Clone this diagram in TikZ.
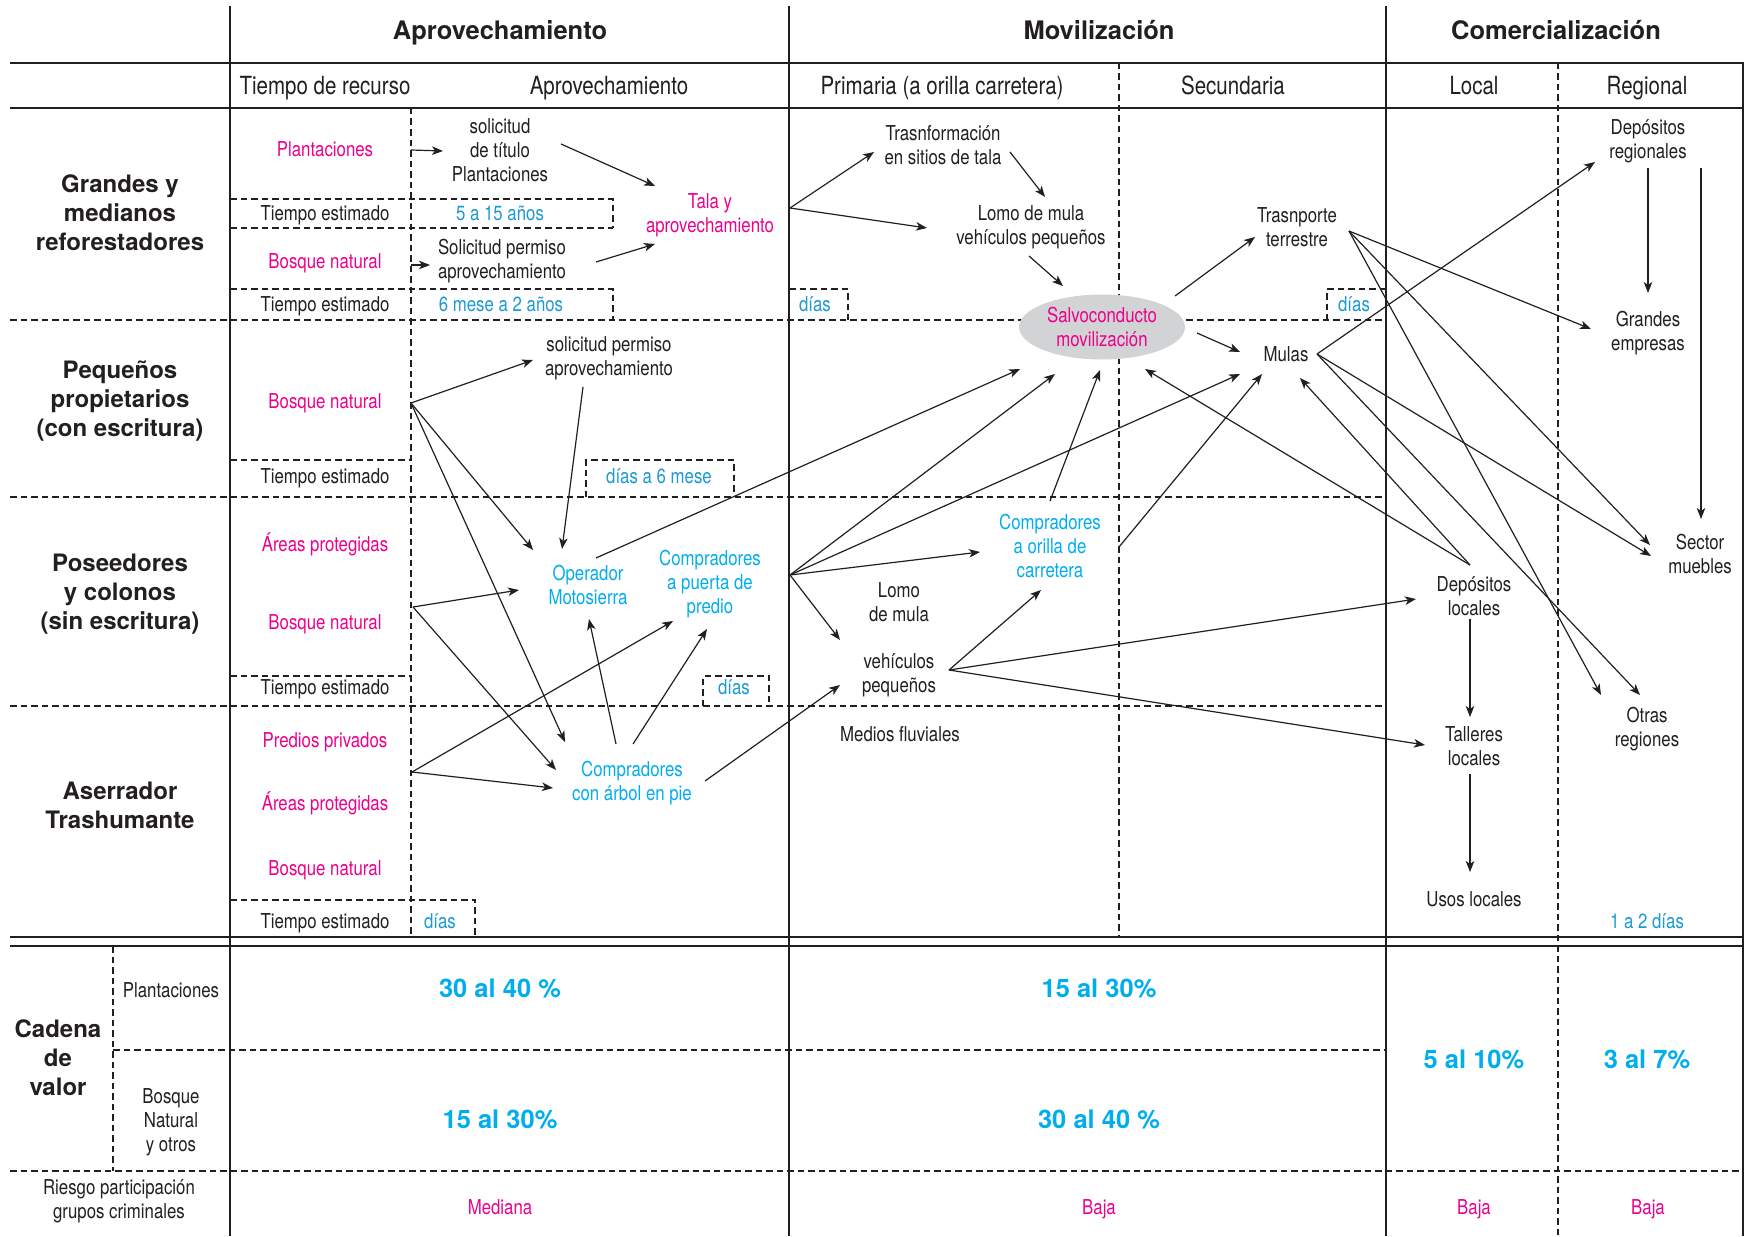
\documentclass[tikz,border=0pt]{standalone}
\usepackage{fontspec}
\setmainfont{TeX Gyre Heros}[FakeStretch=0.82]
\newfontfamily\hvwide{TeX Gyre Heros}
\usetikzlibrary{arrows.meta,shapes.geometric}
\definecolor{ink}{HTML}{231F20}
\definecolor{mag}{HTML}{EC008C}
\definecolor{cya}{HTML}{00AEEF}
\definecolor{cyd}{HTML}{1C9AD6}
\definecolor{gry}{HTML}{D1D3D4}
\tikzset{
 heavy/.style={line width=2.2pt, draw=ink},
 thinb/.style={line width=1.3pt, draw=ink},
 dsh/.style={line width=1.1pt, draw=ink, dash pattern=on 6.5pt off 4pt},
 arr/.style={line width=1.2pt, draw=ink, -{Stealth[length=11pt,width=8.5pt,inset=3pt]}},
 txt/.style={font=\fontsize{20.5}{24.2}\selectfont, text=ink, align=center, inner sep=0pt},
 mtxt/.style={txt, text=mag},
 ctxt/.style={txt, text=cya},
 dtxt/.style={txt, text=cyd},
 bl/.style={anchor=base},
 subh/.style={font=\fontsize{25}{28}\selectfont, text=ink, inner sep=0pt, anchor=base},
 head/.style={font=\hvwide\bfseries\fontsize{25.5}{28}\selectfont, text=ink, inner sep=0pt, anchor=base},
 rowh/.style={font=\hvwide\bfseries\fontsize{24}{29}\selectfont, text=ink, align=center, inner sep=0pt},
 pct/.style={font=\hvwide\bfseries\fontsize{25.5}{28}\selectfont, text=cya, inner sep=0pt, anchor=base},
 salvost/.style={ellipse, fill=gry, minimum width=166pt, minimum height=65pt, inner sep=0pt,
   font=\fontsize{20.5}{24.5}\selectfont, text=mag, align=center},
}
\begin{document}
\begin{tikzpicture}[x=1pt,y=-1pt]
\useasboundingbox (0,0) rectangle (1744,1236);
\fill[white] (0,0) rectangle (1744,1236);

% ---------- grid ----------
\draw[dsh] (1119,63) -- (1119,937);
\draw[dsh] (1558,63) -- (1558,1236);
\draw[dsh] (411,108) -- (411,937);
\draw[dsh] (113,946) -- (113,1171);
\draw[dsh] (10,320) -- (1386,320);
\draw[dsh] (10,497) -- (1386,497);
\draw[dsh] (10,706) -- (1386,706);
\draw[dsh] (113,1050) -- (1386,1050);
\draw[dsh] (10,1171) -- (1744,1171);
% tiempo sub-rows and boxes
\draw[dsh] (230,199) -- (613,199) -- (613,228);
\draw[dsh] (230,228) -- (613,228);
\draw[dsh] (230,289) -- (613,289) -- (613,320);
\draw[dsh] (789,289) -- (848,289) -- (848,320);
\draw[dsh] (1386,289) -- (1327,289) -- (1327,320);
\draw[dsh] (230,460) -- (411,460);
\draw[dsh] (586,497) -- (586,460) -- (734,460) -- (734,497);
\draw[dsh] (230,676) -- (411,676);
\draw[dsh] (703,706) -- (703,676) -- (769,676) -- (769,706);
\draw[dsh] (230,900) -- (475,900) -- (475,937);

\draw[heavy] (230,6) -- (230,1236);
\draw[heavy] (789,6) -- (789,1236);
\draw[heavy] (1386,6) -- (1386,1236);
\draw[heavy] (10,63) -- (1744,63);
\draw[heavy] (10,108) -- (1744,108);
\draw[heavy] (10,937) -- (1744,937);
\draw[heavy] (10,946) -- (1744,946);
\draw[thinb] (1743,63) -- (1743,1236);

% ---------- headers ----------
\node[head] (hA) at (500,40) {Aprovechamiento};
\node[head] (hM) at (1099,40) {Movilización};
\node[head] (hC) at (1556,40) {Comercialización};
\node[subh] (sT) at (325,94.5) {Tiempo de recurso};
\node[subh] (sA) at (609,94.5) {Aprovechamiento};
\node[subh] (sP) at (942,94.5) {Primaria (a orilla carretera)};
\node[subh] (sS) at (1233,94.5) {Secundaria};
\node[subh] (sL) at (1474,94.5) {Local};
\node[subh] (sR) at (1647,94.5) {Regional};

% ---------- row headers ----------
\node[rowh] (r1) at (120,213) {Grandes y\\medianos\\reforestadores};
\node[rowh] (r2) at (120,401) {Pequeños\\propietarios\\(con escritura)};
\node[rowh] (r3) at (120,594) {Poseedores\\y colonos\\(sin escritura)};
\node[rowh] (r4) at (120,805) {Aserrador\\Trashumante};
\node[rowh] (r5) at (58,1058) {Cadena\\de\\valor};

% ---------- row 1 ----------
\node[mtxt,bl] (plant) at (325,156.5) {Plantaciones};
\node[txt] (solT) at (500,150) {solicitud\\de título\\Plantaciones};
\node[txt,bl] (te1) at (325,220.5) {Tiempo estimado};
\node[dtxt,bl] (t515) at (500,220.5) {5 a 15 años};
\node[mtxt,bl] (bn1) at (325,268.5) {Bosque natural};
\node[txt] (solP) at (502,261) {Solicitud permiso\\aprovechamiento};
\node[txt,bl] (te2) at (325,311.5) {Tiempo estimado};
\node[dtxt,bl] (t6m) at (501,311.5) {6 mese a 2 años};
\node[mtxt] (tala) at (710,215) {Tala y\\aprovechamiento};
\node[dtxt,bl] (dias1) at (815,311.5) {días};
\node[txt] (trans) at (943,145) {Trasnformación\\en sitios de tala};
\node[txt] (lomo1) at (1031,227) {Lomo de mula\\vehículos pequeños};
\node[salvost] (salvo) at (1102,327) {Salvoconducto\\movilización};
\node[txt] (trasp) at (1297,227) {Trasnporte\\terrestre};
\node[txt,bl] (mulas) at (1286,361) {Mulas};
\node[dtxt,bl] (dias2) at (1354,311.5) {días};
\node[txt] (depR) at (1648,141) {Depósitos\\regionales};
\node[txt] (grE) at (1648,333) {Grandes\\empresas};

% ---------- row 2 ----------
\node[mtxt,bl] (bn2) at (325,408.5) {Bosque natural};
\node[txt] (solP2) at (609,358) {solicitud permiso\\aprovechamiento};
\node[txt,bl] (te3) at (325,483.5) {Tiempo estimado};
\node[dtxt,bl] (d6) at (659,483.5) {días a 6 mese};

% ---------- row 3 ----------
\node[mtxt,bl] (ap3) at (325,551.5) {Áreas protegidas};
\node[mtxt,bl] (bn3) at (325,629.5) {Bosque natural};
\node[txt,bl] (te4) at (325,694.5) {Tiempo estimado};
\node[ctxt] (oper) at (588,585) {Operador\\Motosierra};
\node[ctxt] (cpuerta) at (710,584) {Compradores\\a puerta de\\predio};
\node[dtxt,bl] (dias3) at (734,694.5) {días};
\node[txt] (lomo2) at (899,602) {Lomo\\de mula};
\node[txt] (veh) at (899,675) {vehículos\\pequeños};
\node[ctxt] (corilla) at (1050,546) {Compradores\\a orilla de\\carretera};
\node[txt] (depL) at (1474,596) {Depósitos\\locales};
\node[txt] (sect) at (1700,554) {Sector\\muebles};

% ---------- row 4 ----------
\node[mtxt,bl] (pp4) at (325,747) {Predios privados};
\node[mtxt,bl] (ap4) at (325,810.5) {Áreas protegidas};
\node[mtxt,bl] (bn4) at (325,875.5) {Bosque natural};
\node[txt,bl] (te5) at (325,928.5) {Tiempo estimado};
\node[dtxt,bl] (dias4) at (440,928.5) {días};
\node[ctxt] (carbol) at (632,783) {Compradores\\con árbol en pie};
\node[txt,bl] (medf) at (900,741) {Medios fluviales};
\node[txt] (tall) at (1474,746) {Talleres\\locales};
\node[txt] (otras) at (1647,729) {Otras\\regiones};
\node[txt,bl] (usos) at (1474,906.5) {Usos locales};
\node[dtxt,bl] (d12) at (1647,928.5) {1 a 2 días};

% ---------- value chain ----------
\node[txt,bl] (cvP) at (171,997.5) {Plantaciones};
\node[txt] (cvB) at (171,1122) {Bosque\\Natural\\y otros};
\node[txt] (ries) at (119,1201) {Riesgo participación\\grupos criminales};
\node[pct] (p1) at (500,997.5) {30 al 40 \%};
\node[pct] (p2) at (500,1128) {15 al 30\%};
\node[pct] (p3) at (1099,997.5) {15 al 30\%};
\node[pct] (p4) at (1099,1128) {30 al 40 \%};
\node[pct] (p5) at (1474,1068) {5 al 10\%};
\node[pct] (p6) at (1647,1068) {3 al 7\%};
\node[mtxt,bl] (k1) at (500,1214.5) {Mediana};
\node[mtxt,bl] (k2) at (1099,1214.5) {Baja};
\node[mtxt,bl] (k3) at (1474,1214.5) {Baja};
\node[mtxt,bl] (k4) at (1648,1214.5) {Baja};

% ---------- connector end points ----------
\coordinate (plantO) at (411,150);  \coordinate (solTI) at (443,151);
\coordinate (bn1O) at (411,265);    \coordinate (solPI) at (430,265);
\coordinate (solTO) at (561,144);   \coordinate (talaI1) at (655,186);
\coordinate (solPO) at (596,262);   \coordinate (talaI2) at (655,244);
\coordinate (talaO) at (790,208);
\coordinate (transI) at (874,152);  \coordinate (lomo1I) at (927,228);
\coordinate (transO) at (1010,152); \coordinate (lomo1I2) at (1045,197);
\coordinate (lomo1O) at (1029,256); \coordinate (salvoI1) at (1063,286);
\coordinate (salvoO1) at (1175,296); \coordinate (traspI) at (1255,237);
\coordinate (salvoO2) at (1197,333); \coordinate (mulasI1) at (1240,352);
\coordinate (traspO) at (1349,231);
\coordinate (grEI) at (1591,329);
\coordinate (sectI1) at (1650,545); \coordinate (sectI2) at (1651,556);
\coordinate (otrasI1) at (1601,695); \coordinate (otrasI2) at (1640,695);
\coordinate (mulasO) at (1317,354);
\coordinate (depRI) at (1595,162);
\coordinate (depRO1) at (1648,168); \coordinate (grEI2) at (1648,293);
\coordinate (depRO2) at (1701,168); \coordinate (sectI3) at (1701,519);
\coordinate (depLO) at (1470,565);
\coordinate (salvoI2) at (1145,369); \coordinate (mulasI2) at (1300,378);
\coordinate (depLO2) at (1470,619); \coordinate (tallI) at (1470,717);
\coordinate (tallO) at (1470,774);  \coordinate (usosI) at (1470,872);
\coordinate (vehO) at (949,670);
\coordinate (corI1) at (1041,590);
\coordinate (depLI) at (1416,599);  \coordinate (tallI2) at (1425,745);
\coordinate (primO) at (790,575);
\coordinate (salvoI3) at (1055,374); \coordinate (mulasI3) at (1240,374);
\coordinate (corI2) at (980,552);   \coordinate (vehI1) at (840,640);
\coordinate (corO1) at (1050,501);  \coordinate (salvoI4) at (1100,370);
\coordinate (corO2) at (1119,547);  \coordinate (mulasI4) at (1262,374);
\coordinate (operO) at (596,558);   \coordinate (salvoI5) at (1020,369);
\coordinate (bn2O) at (411,403);
\coordinate (solP2I) at (533,360);  \coordinate (operI1) at (533,550);
\coordinate (carbI1) at (565,742);
\coordinate (solP2O) at (583,387);  \coordinate (operI2) at (562,549);
\coordinate (bn3O) at (413,607);
\coordinate (operI3) at (519,590);  \coordinate (carbI2) at (556,770);
\coordinate (aserO) at (412,772);
\coordinate (cpuI1) at (673,621);   \coordinate (carbI3) at (553,788);
\coordinate (carbO1) at (616,744);  \coordinate (operI4) at (589,619);
\coordinate (carbO2) at (633,744);  \coordinate (cpuI2) at (707,629);
\coordinate (carbO3) at (705,781);  \coordinate (vehI2) at (840,685);

% ---------- connectors ----------
\draw[arr] (plantO) -- (solTI);
\draw[arr] (bn1O) -- (solPI);
\draw[arr] (solTO) -- (talaI1);
\draw[arr] (solPO) -- (talaI2);
\draw[arr] (talaO) -- (transI);
\draw[arr] (talaO) -- (lomo1I);
\draw[arr] (transO) -- (lomo1I2);
\draw[arr] (lomo1O) -- (salvoI1);
\draw[arr] (salvoO1) -- (traspI);
\draw[arr] (salvoO2) -- (mulasI1);
\draw[arr] (traspO) -- (grEI);
\draw[arr] (traspO) -- (sectI1);
\draw[arr] (traspO) -- (otrasI1);
\draw[arr] (mulasO) -- (depRI);
\draw[arr] (mulasO) -- (otrasI2);
\draw[arr] (mulasO) -- (sectI2);
\draw[arr] (depRO1) -- (grEI2);
\draw[arr] (depRO2) -- (sectI3);
\draw[arr] (depLO) -- (salvoI2);
\draw[arr] (depLO) -- (mulasI2);
\draw[arr] (depLO2) -- (tallI);
\draw[arr] (tallO) -- (usosI);
\draw[arr] (vehO) -- (corI1);
\draw[arr] (vehO) -- (depLI);
\draw[arr] (vehO) -- (tallI2);
\draw[arr] (primO) -- (salvoI3);
\draw[arr] (primO) -- (mulasI3);
\draw[arr] (primO) -- (corI2);
\draw[arr] (primO) -- (vehI1);
\draw[arr] (corO1) -- (salvoI4);
\draw[arr] (corO2) -- (mulasI4);
\draw[arr] (operO) -- (salvoI5);
\draw[arr] (bn2O) -- (solP2I);
\draw[arr] (bn2O) -- (operI1);
\draw[arr] (bn2O) -- (carbI1);
\draw[arr] (solP2O) -- (operI2);
\draw[arr] (bn3O) -- (operI3);
\draw[arr] (bn3O) -- (carbI2);
\draw[arr] (aserO) -- (cpuI1);
\draw[arr] (aserO) -- (carbI3);
\draw[arr] (carbO1) -- (operI4);
\draw[arr] (carbO2) -- (cpuI2);
\draw[arr] (carbO3) -- (vehI2);
\end{tikzpicture}
\end{document}
